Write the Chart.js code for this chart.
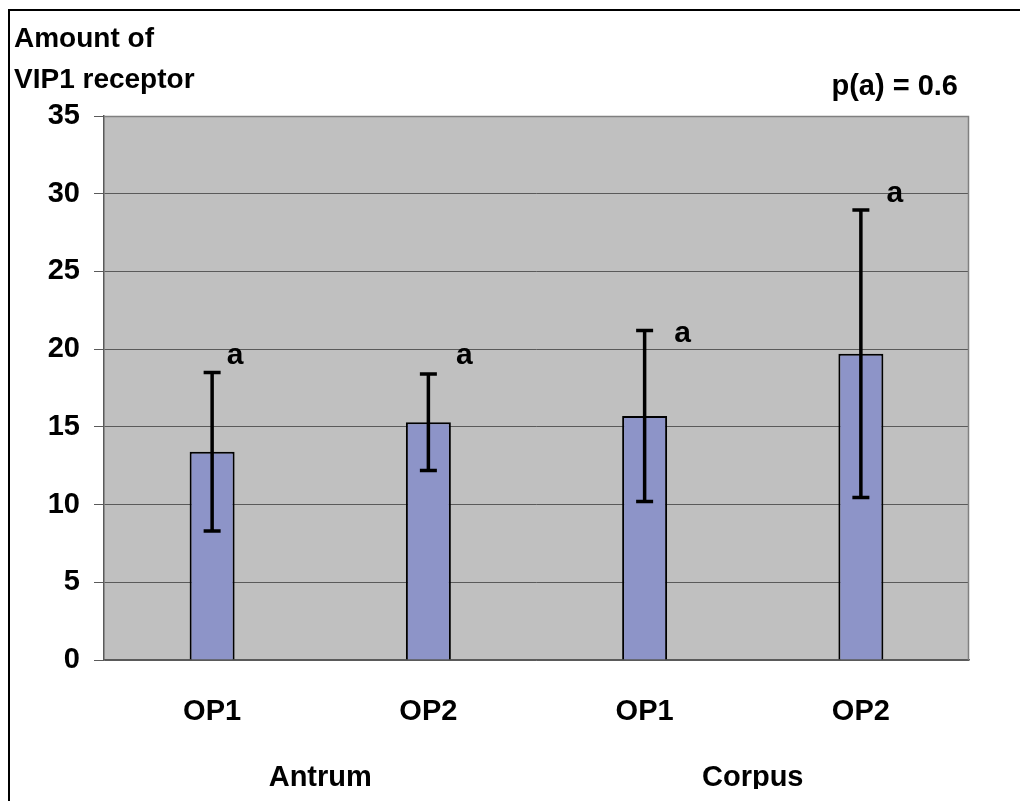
<!DOCTYPE html>
<html>
<head>
<meta charset="utf-8">
<script src="https://cdn.jsdelivr.net/npm/chart.js@4"></script>
<style>
  html, body { margin: 0; padding: 0; background: #fff; }
  #wrap { width: 1020px; height: 801px; }
</style>
</head>
<body>
<div id="wrap"><canvas id="vipChart" width="1020" height="801"></canvas></div>
<script>
// data
const barLabels = ["OP1", "OP2", "OP1", "OP2"];
const groupLabels = ["Antrum", "Corpus"];
const means = [13.4, 15.3, 15.7, 19.7];
const errors = [5.1, 3.1, 5.5, 9.25];
const letters = ["a", "a", "a", "a"];
const letterValues = [19.6, 19.6, 21.0, 30.0];
const yTicks = [0, 5, 10, 15, 20, 25, 30, 35];

const FONT = "'Liberation Sans', Arial, sans-serif";
const letterDx = [23, 36, 38, 34];

// gray plot background + frames
const backgroundPlugin = {
  id: "plotBg",
  beforeDraw(chart) {
    const { ctx, chartArea: a } = chart;
    ctx.save();
    ctx.fillStyle = "#fff";
    ctx.fillRect(0, 0, chart.width, chart.height);
    ctx.fillStyle = "#C0C0C0";
    ctx.fillRect(a.left, a.top, a.right - a.left, a.bottom - a.top);
    ctx.restore();
  },
  afterDraw(chart) {
    const { ctx, chartArea: a } = chart;
    ctx.save();
    // plot frame (right side)
    ctx.strokeStyle = "#808080";
    ctx.lineWidth = 1.5;
    ctx.beginPath();
    ctx.moveTo(a.left, a.top + 0.5);
    ctx.lineTo(a.right - 0.5, a.top + 0.5);
    ctx.lineTo(a.right - 0.5, a.bottom);
    ctx.stroke();
    // outer frame
    ctx.strokeStyle = "#000";
    ctx.lineWidth = 2;
    ctx.strokeRect(9, 10, chart.width + 20, chart.height + 20);
    // titles
    ctx.fillStyle = "#000";
    ctx.font = "bold 28px " + FONT;
    ctx.textAlign = "left";
    ctx.textBaseline = "alphabetic";
    ctx.fillText("Amount of", 14, 47);
    ctx.fillText("VIP1 receptor", 14, 88);
    ctx.textAlign = "right";
    ctx.font = "bold 29px " + FONT;
    ctx.fillText("p(a) = 0.6", 958, 95);
    ctx.restore();
  }
};

// error bars and letters
const errorBarPlugin = {
  id: "errorBars",
  afterDatasetsDraw(chart) {
    const { ctx } = chart;
    const x = chart.scales.x;
    const y = chart.scales.y;
    ctx.save();
    ctx.strokeStyle = "#000";
    ctx.lineWidth = 3.5;
    means.forEach((m, i) => {
      const cx = x.getPixelForValue(i);
      const top = y.getPixelForValue(m + errors[i]);
      const bot = y.getPixelForValue(m - errors[i]);
      ctx.beginPath();
      ctx.moveTo(cx, top);
      ctx.lineTo(cx, bot);
      ctx.moveTo(cx - 8.5, top);
      ctx.lineTo(cx + 8.5, top);
      ctx.moveTo(cx - 8.5, bot);
      ctx.lineTo(cx + 8.5, bot);
      ctx.stroke();
    });
    ctx.fillStyle = "#000";
    ctx.font = "bold 30px " + FONT;
    ctx.textAlign = "center";
    ctx.textBaseline = "middle";
    letters.forEach((t, i) => {
      ctx.fillText(t, x.getPixelForValue(i) + letterDx[i], y.getPixelForValue(letterValues[i]));
    });
    ctx.restore();
  }
};

const tickFont = { family: FONT, size: 29, weight: "bold", lineHeight: 1.2 };

new Chart(document.getElementById("vipChart"), {
  type: "bar",
  data: {
    labels: barLabels,
    datasets: [{
      data: means,
      backgroundColor: "#8D94C8",
      borderColor: "#000",
      borderWidth: 2,
      categoryPercentage: 1,
      barPercentage: 0.208
    }]
  },
  options: {
    responsive: false,
    animation: false,
    devicePixelRatio: 1,
    layout: { padding: { left: 0, right: 51, top: 116, bottom: 12 } },
    plugins: { legend: { display: false }, tooltip: { enabled: false } },
    scales: {
      y: {
        min: 0,
        max: 35,
        afterBuildTicks: s => { s.ticks = yTicks.map(v => ({ value: v })); },
        afterFit: s => { s.width = 104; },
        grid: { color: "#5a5a5a", lineWidth: 1, tickLength: 10, tickColor: "#5a5a5a" },
        border: { color: "#5a5a5a", width: 1.5 },
        ticks: { color: "#000", font: tickFont, padding: 14 }
      },
      x: {
        position: "bottom",
        afterFit: s => { s.height = 62; },
        grid: { display: false },
        border: { color: "#5a5a5a", width: 1.5 },
        ticks: { color: "#000", font: tickFont, padding: 27, maxRotation: 0 }
      },
      x2: {
        type: "category",
        position: "bottom",
        labels: groupLabels,
        offset: true,
        afterFit: s => { s.height = 67; },
        grid: { display: false },
        border: { display: false },
        ticks: { color: "#000", font: tickFont, padding: 31, maxRotation: 0 }
      }
    }
  },
  plugins: [backgroundPlugin, errorBarPlugin]
});
</script>
</body>
</html>
